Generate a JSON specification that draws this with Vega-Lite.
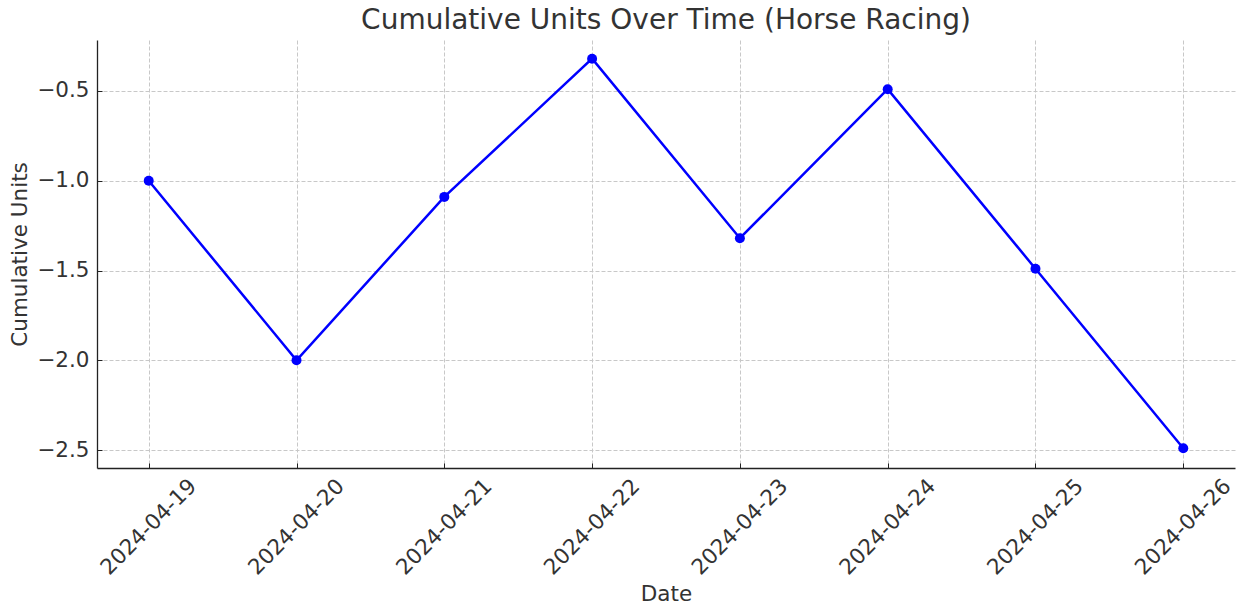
{
  "$schema": "https://vega.github.io/schema/vega-lite/v6.json",
  "autosize": "none",
  "width": 1138,
  "height": 428,
  "padding": {"left": 97, "top": 40, "right": 4, "bottom": 141},
  "background": "white",
  "config": {
    "font": "DejaVu Sans",
    "view": {"stroke": null},
    "axis": {
      "labelFont": "DejaVu Sans",
      "titleFont": "DejaVu Sans",
      "labelFontSize": 21.5,
      "titleFontSize": 21.5,
      "labelColor": "#333333",
      "titleColor": "#333333",
      "titleFontWeight": "normal",
      "domainColor": "#222222",
      "domainWidth": 1.3,
      "tickColor": "#222222",
      "tickWidth": 1,
      "tickSize": -5,
      "grid": true,
      "gridColor": "#c8c8c8",
      "gridDash": [4, 2],
      "gridWidth": 1
    }
  },
  "title": {
    "text": "Cumulative Units Over Time (Horse Racing)",
    "font": "DejaVu Sans",
    "fontSize": 28,
    "fontWeight": "normal",
    "color": "#333333",
    "anchor": "middle",
    "offset": 5
  },
  "data": {
    "values": [
      {"date": "2024-04-19", "units": -1.0},
      {"date": "2024-04-20", "units": -2.0},
      {"date": "2024-04-21", "units": -1.09},
      {"date": "2024-04-22", "units": -0.32},
      {"date": "2024-04-23", "units": -1.32},
      {"date": "2024-04-24", "units": -0.49},
      {"date": "2024-04-25", "units": -1.49},
      {"date": "2024-04-26", "units": -2.49}
    ]
  },
  "encoding": {
    "x": {
      "field": "date",
      "type": "temporal",
      "title": "Date",
      "scale": {
        "type": "utc",
        "domain": [
          {"year": 2024, "month": 4, "date": 18, "hours": 15, "minutes": 36, "utc": true},
          {"year": 2024, "month": 4, "date": 26, "hours": 8, "minutes": 24, "utc": true}
        ]
      },
      "axis": {
        "values": [
          {"year": 2024, "month": 4, "date": 19, "utc": true},
          {"year": 2024, "month": 4, "date": 20, "utc": true},
          {"year": 2024, "month": 4, "date": 21, "utc": true},
          {"year": 2024, "month": 4, "date": 22, "utc": true},
          {"year": 2024, "month": 4, "date": 23, "utc": true},
          {"year": 2024, "month": 4, "date": 24, "utc": true},
          {"year": 2024, "month": 4, "date": 25, "utc": true},
          {"year": 2024, "month": 4, "date": 26, "utc": true}
        ],
        "labelExpr": "utcFormat(datum.value, '%Y-%m-%d')",
        "labelAngle": -45,
        "labelAlign": "center",
        "labelBaseline": "middle",
        "labelPadding": 64,
        "labelOverlap": false,
        "labelFlush": false,
        "titleY": 126,
        "titleBaseline": "middle"
      }
    },
    "y": {
      "field": "units",
      "type": "quantitative",
      "title": "Cumulative Units",
      "scale": {"domain": [-2.6, -0.216], "nice": false, "zero": false},
      "axis": {
        "values": [-2.5, -2.0, -1.5, -1.0, -0.5],
        "format": ".1f",
        "labelPadding": 13,
        "titleX": -77,
        "titleBaseline": "middle"
      }
    }
  },
  "layer": [
    {"mark": {"type": "line", "color": "#0000ff", "strokeWidth": 2.5}},
    {"mark": {"type": "point", "shape": "circle", "filled": true, "color": "#0000ff", "opacity": 1, "size": 100}}
  ]
}
